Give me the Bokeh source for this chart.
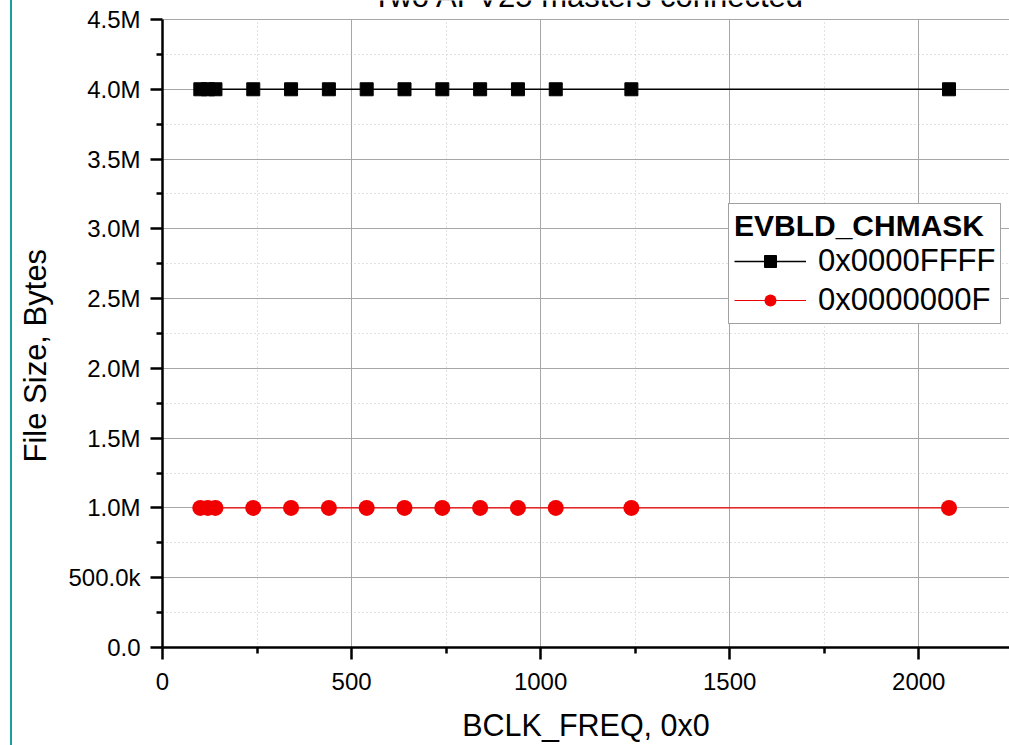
from bokeh.plotting import figure
from bokeh.models import Range1d, FixedTicker, Legend, LegendItem, Label, BoxAnnotation, Title
from bokeh.embed import file_html
from bokeh.resources import INLINE

FONT = "Liberation Sans"

# ---- data -------------------------------------------------------------
bclk_freq = [100, 120, 140, 240, 340, 440, 540, 640, 740, 840, 940, 1040, 1240, 2080]
size_ffff = [4.0e6, 4.0e6, 4.0e6, 4.0e6, 4.0e6, 4.0e6, 4.0e6, 4.0e6, 4.0e6, 4.0e6, 4.0e6, 4.0e6, 4.0e6, 4.0e6]
size_000f = [1.0e6, 1.0e6, 1.0e6, 1.0e6, 1.0e6, 1.0e6, 1.0e6, 1.0e6, 1.0e6, 1.0e6, 1.0e6, 1.0e6, 1.0e6, 1.0e6]
series_labels = ["0x0000FFFF", "0x0000000F"]
legend_title = "EVBLD_CHMASK"
chart_title = "Two APV25 masters connected"
x_label = "BCLK_FREQ, 0x0"
y_label = "File Size, Bytes"

x_ticks = [0, 500, 1000, 1500, 2000]
x_tick_labels = ["0", "500", "1000", "1500", "2000"]
x_minor = [250, 750, 1250, 1750, 2250]
y_ticks = [0, 500000, 1000000, 1500000, 2000000, 2500000, 3000000, 3500000, 4000000, 4500000]
y_tick_labels = ["0.0", "500.0k", "1.0M", "1.5M", "2.0M", "2.5M", "3.0M", "3.5M", "4.0M", "4.5M"]
y_minor = [250000, 750000, 1250000, 1750000, 2250000, 2750000, 3250000, 3750000, 4250000]

# ---- layout (pixels) --------------------------------------------------
W, H = 1009, 745
FRAME_LEFT, FRAME_BOTTOM = 162, 647
AXIS_TOP = 19                      # pixel row of the top tick (4.5M)
x_end = 2240
y_per_px = (y_ticks[-1] - y_ticks[0]) / (FRAME_BOTTOM - AXIS_TOP)
y_end = y_ticks[-1] + AXIS_TOP * y_per_px   # frame reaches the top so the title can show

p = figure(width=W, height=H, output_backend="svg", toolbar_location=None, title=None,
           x_range=Range1d(0, x_end), y_range=Range1d(0, y_end),
           min_border_left=FRAME_LEFT, min_border_right=0, min_border_top=0,
           min_border_bottom=H - FRAME_BOTTOM)
p.outline_line_color = None
p.background_fill_color = "white"
p.border_fill_color = None
p.styles = {"background": "linear-gradient(90deg, #ffffff 0px, #ffffff 10px, #1a9f9f 10px, "
                          "#1a9f9f 12px, #ffffff 12px, #ffffff 100%)"}

xt = FixedTicker(ticks=x_ticks, minor_ticks=x_minor)
yt = FixedTicker(ticks=y_ticks, minor_ticks=y_minor)
p.xaxis.ticker = xt
p.yaxis.ticker = yt
p.xgrid.ticker = xt
p.ygrid.ticker = yt
p.xaxis.major_label_overrides = {t: l for t, l in zip(x_ticks, x_tick_labels)}
p.yaxis.major_label_overrides = {t: l for t, l in zip(y_ticks, y_tick_labels)}
p.yaxis.bounds = (y_ticks[0], y_ticks[-1])

for ax in (p.xaxis[0], p.yaxis[0]):
    ax.axis_line_color = "black"
    ax.axis_line_width = 2.5
    ax.major_tick_line_color = "black"
    ax.minor_tick_line_color = "black"
    ax.major_tick_line_width = 2.5
    ax.minor_tick_line_width = 2.5
    ax.major_tick_out = 12
    ax.major_tick_in = 0
    ax.minor_tick_out = 6
    ax.minor_tick_in = 0
    ax.major_label_text_font = FONT
    ax.major_label_text_font_size = "24px"
    ax.major_label_text_color = "black"
p.yaxis.major_label_standoff = 10
p.xaxis.major_label_standoff = 13

p.xaxis.axis_label = x_label
p.xaxis.axis_label_text_font = FONT
p.xaxis.axis_label_text_font_size = "30.5px"
p.xaxis.axis_label_text_font_style = "normal"
p.xaxis.axis_label_text_color = "black"
p.xaxis.axis_label_standoff = 15

# y axis title, placed by its start (bottom end) along the frame
p.add_layout(Title(text=y_label, align="left", offset=185, standoff=26,
                   text_font=FONT, text_font_size="31px", text_font_style="normal",
                   text_color="black"), "left")

for g in (p.xgrid[0], p.ygrid[0]):
    g.grid_line_color = "#a6a6a6"
    g.grid_line_width = 1
    g.minor_grid_line_color = "#c4c4c4"
    g.minor_grid_line_dash = "1 3"
    g.minor_grid_line_width = 1

xg = p.xgrid[0]
if "cross_bounds" in xg.properties():
    xg.cross_bounds = (y_ticks[0], y_ticks[-1])
else:
    p.add_layout(BoxAnnotation(bottom=y_ticks[-1] + 0.6 * y_per_px, fill_color="white",
                               fill_alpha=1, line_color=None))

# ---- series -----------------------------------------------------------
l1 = p.line(bclk_freq, size_ffff, line_color="black", line_width=1.5)
s1 = p.scatter(bclk_freq, size_ffff, marker="square", size=13, fill_color="black", line_color="black")
l2 = p.line(bclk_freq, size_000f, line_color="#f00000", line_width=1.2)
s2 = p.scatter(bclk_freq, size_000f, marker="circle", size=16, fill_color="#f00000", line_color=None)

legend = Legend(items=[LegendItem(label=series_labels[0], renderers=[l1, s1]),
                       LegendItem(label=series_labels[1], renderers=[l2, s2])],
                location=(728 - FRAME_LEFT, FRAME_BOTTOM - 324))
legend.title = legend_title
legend.title_text_font = FONT
legend.title_text_font_style = "bold"
legend.title_text_font_size = "30px"
legend.title_text_color = "black"
legend.label_text_font = FONT
legend.label_text_font_size = "31px"
legend.label_text_color = "black"
legend.glyph_width = 72
legend.glyph_height = 30
legend.label_standoff = 12
legend.padding = 5
legend.spacing = 3
legend.title_standoff = 0
legend.border_line_color = "#444444"
legend.border_line_width = 1.5
legend.background_fill_color = "white"
legend.background_fill_alpha = 1
p.add_layout(legend)

# chart title, mostly above the picture's top edge as in the reference
p.add_layout(Label(x=588 - FRAME_LEFT, y=FRAME_BOTTOM + 4, x_units="screen", y_units="screen",
                   text=chart_title, text_font=FONT, text_font_size="31px", text_align="center",
                   text_baseline="middle", text_color="black"))

open("out.html", "w").write(file_html(p, INLINE))
